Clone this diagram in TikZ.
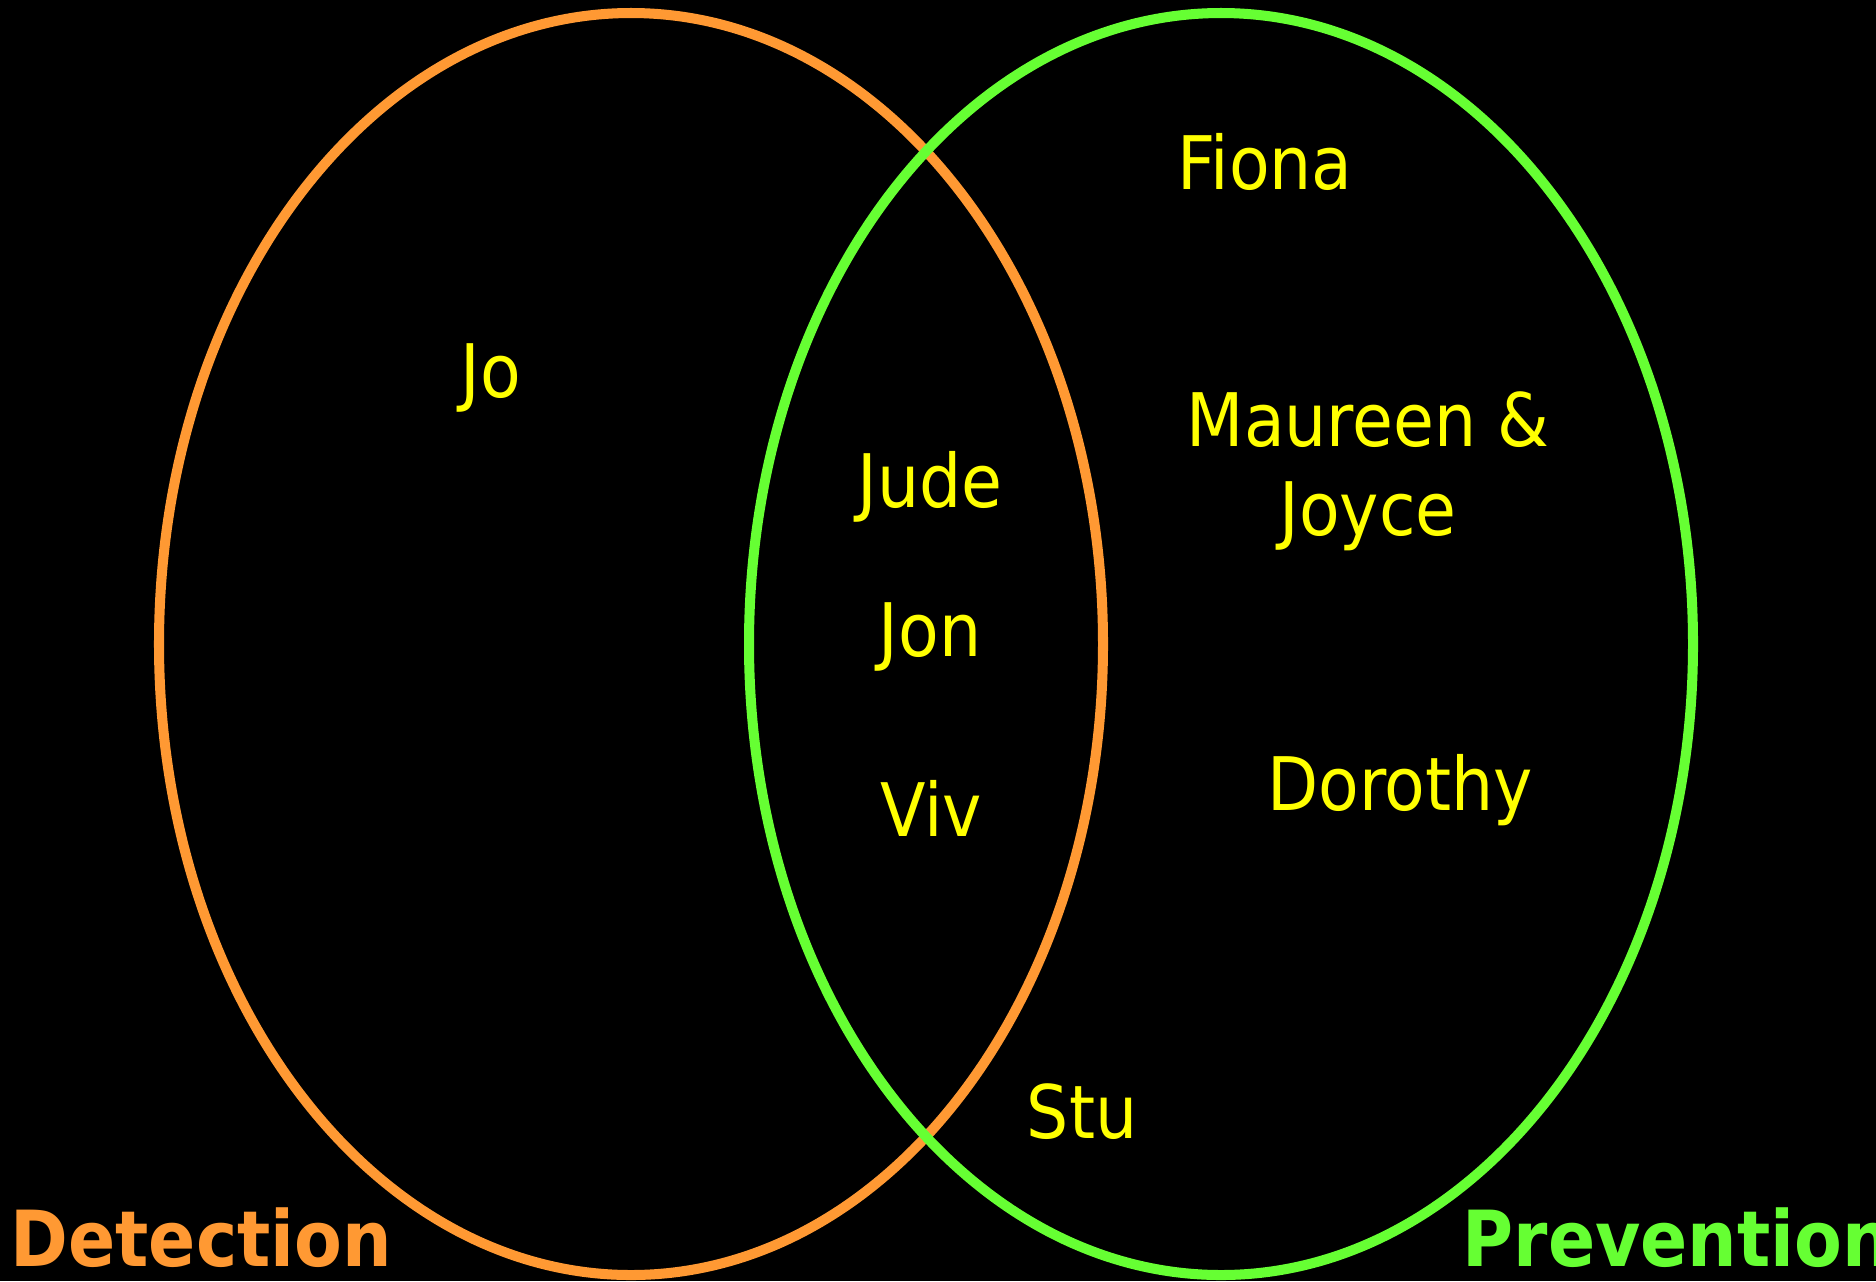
\documentclass[tikz,border=0pt]{standalone}
\usepackage{fontspec}
\setmainfont{DejaVu Sans Condensed}
\usetikzlibrary{positioning}
\definecolor{detect}{HTML}{FF9933}
\definecolor{prevent}{HTML}{66FF33}
\definecolor{namecol}{HTML}{FFFF00}

\tikzset{
  person/.style={text=namecol,inner sep=0pt,anchor=base,
                 font=\fontsize{21}{25}\selectfont},
  ring/.style={line width=2.85pt},
  setname/.style={inner sep=0pt,anchor=base west,
                  font=\bfseries\fontsize{22}{26}\selectfont},
}

\begin{document}
\begin{tikzpicture}[x=0.01cm,y=-0.01cm]
  \useasboundingbox[fill=black] (0,0) rectangle (1876,1281);
  \clip (0,0) rectangle (1876,1281);

  % the two sets
  \draw[ring,detect]  (631,644) ellipse [x radius=472,y radius=631];
  \draw[ring,prevent] (1221,644) ellipse [x radius=472,y radius=631];

  % detection only
  \node[person] (jo) at (491,397) {Jo};

  % both
  \node[person] (jude) at (930,507) {Jude};
  \node[person] (jon)  at (930,656) {Jon};
  \node[person] (viv)  at (931,836) {Viv};

  % prevention only
  \node[person] (fiona)   at (1265,189)  {Fiona};
  \node[person] (maureen) at (1368,446)  {Maureen \&};
  \node[person] (joyce)   at (1368,535)  {Joyce};
  \node[person] (dorothy) at (1400,810)  {Dorothy};
  \node[person] (stu)     at (1082,1138) {Stu};

  % set names
  \node[setname,text=detect]  (detection)  at (10,1266)   {Detection};
  \node[setname,text=prevent] (prevention) at (1462,1266) {Prevention};
\end{tikzpicture}
\end{document}
